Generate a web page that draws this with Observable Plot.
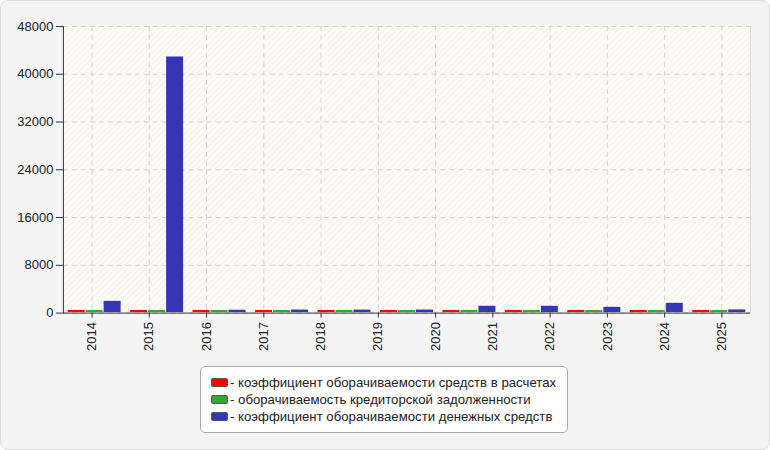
<!DOCTYPE html>
<html>
<head>
<meta charset="utf-8">
<script src="https://cdn.jsdelivr.net/npm/d3@7"></script>
<script src="https://cdn.jsdelivr.net/npm/@observablehq/plot@0.6"></script>
<style>
  html, body { margin: 0; padding: 0; background: #fff; }
  #wrap { position: relative; width: 768px; height: 448px; background: #f4f4f4; border: 1px solid #dcdcdc; border-radius: 8px; overflow: hidden; font-family: Arial, "Liberation Sans", sans-serif; }
  #chart { position: absolute; left: -1px; top: -1px; }
  #legend { position: absolute; left: 199px; top: 365px; width: 366px; height: 65px; background: #fff; border: 1px solid #aaa; border-radius: 5px; font-size: 13.2px; color: #222; box-sizing: content-box; }
  .item { position: absolute; left: 10px; height: 17px; line-height: 17px; white-space: nowrap; }
  .sw { display: inline-block; width: 15px; height: 7px; border: 1px solid #555; border-radius: 2px; vertical-align: middle; margin-right: 2px; position: relative; top: -1px; }
</style>
</head>
<body>
<div id="wrap">
  <div id="chart"></div>
  <div id="legend"></div>
</div>
<script>
const years = ["2014","2015","2016","2017","2018","2019","2020","2021","2022","2023","2024","2025"];
const seriesNames = [
  "коэффициент оборачиваемости средств в расчетах",
  "оборачиваемость кредиторской задолженности",
  "коэффициент оборачиваемости денежных средств"
];
const receivablesTurnover = [20, 20, 20, 20, 20, 20, 20, 20, 20, 20, 20, 20];
const payablesTurnover    = [15, 15, 15, 15, 15, 15, 15, 15, 15, 15, 15, 15];
const cashTurnover        = [1550, 42470, 60, 90, 80, 90, 720, 720, 550, 1220, 110, 100];
const seriesColors = ["#ff0000", "#33a833", "#3535b5"];
const yTicks = [0, 8000, 16000, 24000, 32000, 40000, 48000];

const seriesValues = [receivablesTurnover, payablesTurnover, cashTurnover];
const n = years.length;

// Tick slots: n equal bands across the frame; bar slots: the source chart
// spaces bar groups over n-1 divisions (the last group falls outside and is clipped).
const groupBand = d3.scaleBand().domain(years).range([0, n * n / (n - 1)]);
const seriesBand = d3.scaleBand().domain(seriesNames).range([0, groupBand.bandwidth()])
  .paddingInner(0.055).paddingOuter(0.265);

const data = years.flatMap((year, i) =>
  seriesNames.map((series, s) => {
    const x1 = groupBand(year) + seriesBand(series);
    return {year, series, value: seriesValues[s][i], x1, x2: x1 + seriesBand.bandwidth()};
  })
);
const tickPositions = years.map((y, i) => i + 0.5);

const defs = () => {
  const d = d3.create("svg:defs");
  const p = d.append("pattern").attr("id", "hatch").attr("patternUnits", "userSpaceOnUse")
    .attr("width", 6).attr("height", 6);
  p.append("rect").attr("width", 6).attr("height", 6).attr("fill", "#fcfcf4");
  p.append("path").attr("d", "M-1,1 l2,-2 M0,6 l6,-6 M5,7 l2,-2").attr("stroke", "#efefe4").attr("stroke-width", 1);
  return d.node();
};

const chart = Plot.plot({
  width: 770,
  height: 356,
  marginLeft: 63,
  marginRight: 19,
  marginTop: 26,
  marginBottom: 43,
  style: {background: "transparent", fontFamily: "Arial, 'Liberation Sans', sans-serif", fontSize: "13px", color: "#222"},
  x: {type: "linear", domain: [0, n], axis: null},
  y: {domain: [0, 48000], label: null},
  color: {domain: seriesNames, range: seriesColors},
  marks: [
    defs,
    Plot.frame({fill: "url(#hatch)"}),
    Plot.gridY({ticks: yTicks, stroke: "#d4d4d4", strokeOpacity: 1, strokeDasharray: "5,4"}),
    Plot.gridX({ticks: tickPositions, stroke: "#d4d4d4", strokeOpacity: 1, strokeDasharray: "5,4"}),
    Plot.frame({anchor: "right", stroke: "#dcdcdc"}),
    Plot.ruleY([0], {stroke: "#333"}),
    Plot.rectY(data, {x1: "x1", x2: "x2", y1: 0, y2: "value", fill: "series", insetTop: -2.5, insetBottom: 0.5, clip: true}),
    Plot.frame({anchor: "left", stroke: "#333"}),
    Plot.axisY({ticks: yTicks, tickSize: 7, tickPadding: 3, tickFormat: d => String(d), label: null, stroke: "#333"}),
    Plot.axisX({ticks: tickPositions, anchor: "bottom", tickRotate: -90, tickSize: 5, tickPadding: 4,
      tickFormat: d => years[Math.floor(d)], label: null, stroke: "#333"})
  ]
});
document.getElementById("chart").appendChild(chart);

const legend = d3.select("#legend");
seriesNames.forEach((name, i) => {
  const it = legend.append("div").attr("class", "item").style("top", (7 + i * 17) + "px");
  it.append("span").attr("class", "sw").style("background", seriesColors[i]);
  it.append("span").text("- " + name);
});
</script>
</body>
</html>
